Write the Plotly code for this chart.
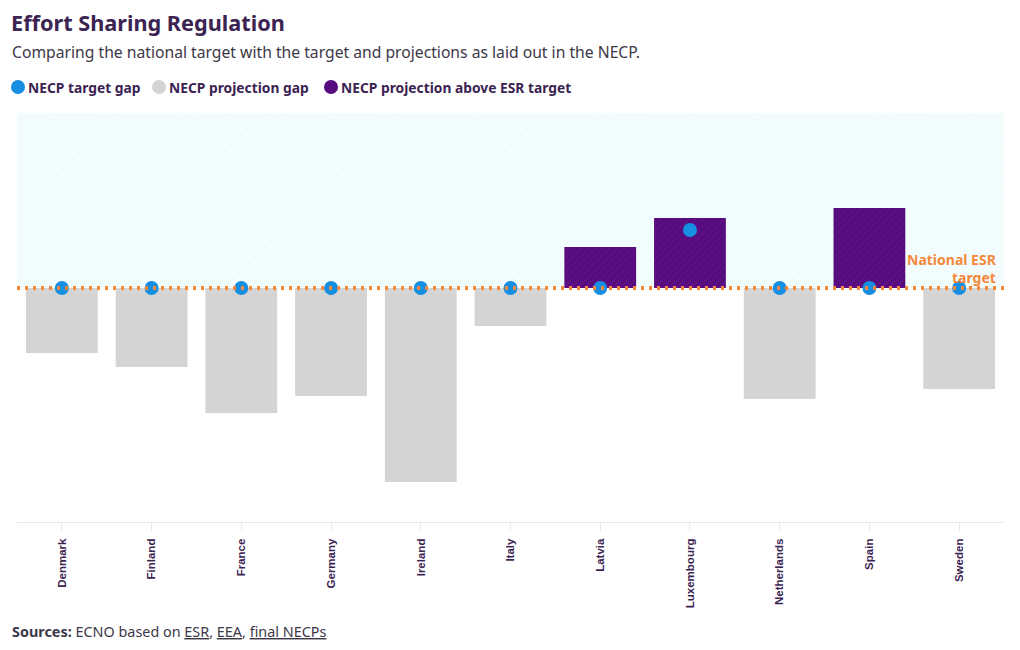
import plotly.graph_objects as go

countries = ["Denmark", "Finland", "France", "Germany", "Ireland", "Italy",
             "Latvia", "Luxembourg", "Netherlands", "Spain", "Sweden"]
# NECP projection gap relative to national ESR target (percentage points, estimated)
projection_gap = [-6.5, -7.9, -12.5, -10.8, -19.4, -3.8, 4.1, 7.0, -11.1, 8.0, -10.1]
# NECP target gap relative to national ESR target
target_gap = [0, 0, 0, 0, 0, 0, 0, 5.8, 0, 0, 0]

legend_names = ["NECP target gap", "NECP projection gap", "NECP projection above ESR target"]

y_min, y_max = -23.4, 17.5

TEXT = "#3b2352"
BLUE = "#168fe3"
GRAY = "#d4d4d4"
PURPLE = "#560b7e"
ORANGE = "#f5883a"
FONT = "Noto Sans"
legend_colors = [BLUE, GRAY, PURPLE]
legend_px = [18, 159, 331]          # legend item circle centres (pixels from left)

W, H = 1020, 650
ML, MR, MT, MB = 17, 16, 113, 128
PW, PH = W - ML - MR, H - MT - MB


def px_x(px):
    return (px - ML) / PW


def px_y(py):
    return (H - MB - py) / PH


fig = go.Figure()

# hatched "above target" band on the (hidden) base axis
fig.add_trace(go.Scatter(
    x=[0, 1, 1, 0, 0], y=[0, 0, y_max, y_max, 0], xaxis="x", yaxis="y",
    mode="none", fill="toself", fillcolor="#f2fcfd",
    fillpattern=dict(shape="/", fgcolor="#d9f3f5", bgcolor="#f4fdfd", size=6, solidity=0.15),
    hoverinfo="skip", showlegend=False))

gray_vals = [v if v < 0 else None for v in projection_gap]
purple_vals = [v if v > 0 else None for v in projection_gap]

fig.add_trace(go.Bar(x=countries, y=gray_vals, xaxis="x2",
                     marker=dict(color=GRAY, line=dict(width=0)),
                     width=0.8, showlegend=False, name=legend_names[1]))
fig.add_trace(go.Bar(x=countries, y=purple_vals, xaxis="x2",
                     marker=dict(color=PURPLE, line=dict(width=0),
                                 pattern=dict(shape="/", fgcolor="#661a8c", bgcolor=PURPLE, size=5, solidity=0.25)),
                     width=0.8, showlegend=False, name=legend_names[2]))
fig.add_trace(go.Scatter(x=countries, y=target_gap, xaxis="x2", mode="markers",
                         marker=dict(color=BLUE, size=14), showlegend=False,
                         name=legend_names[0]))

# national target line
fig.add_shape(type="line", xref="paper", x0=0, x1=1, yref="y", y0=0, y1=0,
              line=dict(color=ORANGE, width=4, dash="3px,5px"), layer="above")

fig.add_annotation(xref="paper", x=px_x(999), yref="y", y=1.95, xanchor="right", yanchor="middle",
                   align="right", showarrow=False,
                   text="<b>National ESR<br>target</b>",
                   font=dict(family=FONT, size=14, color=ORANGE))

fig.add_annotation(xref="paper", x=px_x(10), yref="paper", y=px_y(52), xanchor="left", yanchor="middle",
                   showarrow=False,
                   text="Comparing the national target with the target and projections as laid out in the NECP.",
                   font=dict(family=FONT, size=15.7, color="#3d3848"))

# custom legend: circle shapes + bold labels
for name, col, cx in zip(legend_names, legend_colors, legend_px):
    fig.add_shape(type="circle", xref="paper", yref="paper",
                  xsizemode="pixel", ysizemode="pixel",
                  xanchor=px_x(cx), yanchor=px_y(87),
                  x0=-7, x1=7, y0=-7, y1=7,
                  fillcolor=col, line=dict(width=0), layer="above")
    fig.add_annotation(xref="paper", x=px_x(cx + 8), yref="paper", y=px_y(87),
                       xanchor="left", yanchor="middle", showarrow=False,
                       text=f"<b>{name}</b>",
                       font=dict(family=FONT, size=13.8, color=TEXT))

fig.add_annotation(xref="paper", x=px_x(10), yref="paper", y=px_y(631), xanchor="left", yanchor="middle",
                   showarrow=False,
                   text="<b>Sources:</b> ECNO based on <u>ESR</u>, <u>EEA</u>, <u>final NECPs</u>",
                   font=dict(family=FONT, size=14.4, color="#3d3848"))

fig.update_layout(
    width=W, height=H,
    margin=dict(l=ML, r=MR, t=MT, b=MB),
    paper_bgcolor="white", plot_bgcolor="white",
    title=dict(text="<b>Effort Sharing Regulation</b>", x=0.0108, xanchor="left",
               y=1 - 23 / H, yanchor="middle", xref="container", yref="container",
               font=dict(family=FONT, size=21.7, color=TEXT)),
    showlegend=False,
    barmode="overlay",
    xaxis=dict(range=[0, 1], visible=False, fixedrange=True),
    xaxis2=dict(type="category", categoryorder="array", categoryarray=countries,
                overlaying="x", anchor="y", side="bottom",
                range=[-0.5, 10.5], showgrid=False, zeroline=False,
                showline=True, linecolor="#e8e8e8", linewidth=1,
                ticks="outside", ticklen=8, tickcolor="#e8e8e8",
                tickangle=-90, ticklabelstandoff=3,
                tickfont=dict(family="Arial", size=11.5, color=TEXT, weight="bold")),
    yaxis=dict(range=[y_min, y_max], showgrid=False, zeroline=False,
               showticklabels=False, showline=False),
    hovermode=False,
)

fig.write_html("out.html", config={"displayModeBar": False},
               post_script="document.body.style.margin='0';")
